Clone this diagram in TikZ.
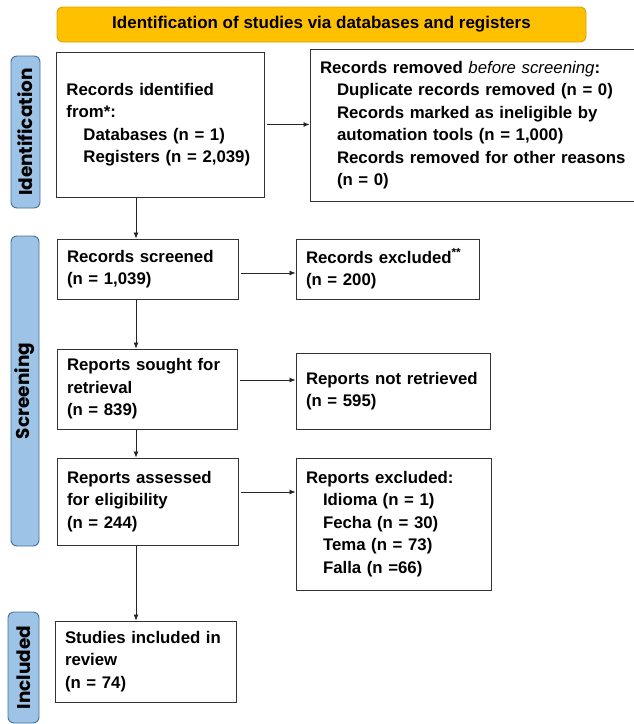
\documentclass[tikz,border=0pt]{standalone}
\usepackage{fontspec}
\setmainfont{Liberation Sans}
\newfontfamily\sidefont{Poppins}
\usetikzlibrary{arrows.meta}
\definecolor{hdrfill}{HTML}{FFC000}
\definecolor{hdrline}{HTML}{D9A300}
\definecolor{sidefill}{HTML}{9DC3E6}
\definecolor{sideline}{HTML}{41719C}
\newcommand{\inset}{\hspace*{17pt}}

\begin{document}
\begin{tikzpicture}[x=1pt,y=-1pt,>={Latex[length=6pt,width=5pt]}]

\tikzstyle{box}=[rectangle,draw=black!80,line width=0.9pt,inner xsep=10pt,inner ysep=0pt,align=left,font=\bfseries\fontsize{16.8}{22.5}\selectfont]
\tikzstyle{side}=[rectangle,rounded corners=6pt,draw=sideline,fill=sidefill,line width=0.9pt,inner sep=0pt,rotate=90,font=\sidefont\bfseries\fontsize{18.5}{18.5}\selectfont]
\tikzstyle{link}=[->,line width=0.8pt,black!85]

\useasboundingbox (0,0) rectangle (634,724);

\node[rectangle,rounded corners=6pt,draw=hdrline,fill=hdrfill,line width=0.9pt,minimum width=529pt,minimum height=35pt,font=\bfseries\fontsize{17}{20}\selectfont] (head) at (321.5,24.5) {Identification of studies via databases and registers};

\node[side,minimum width=152pt,minimum height=29pt] (sid) at (25.5,132) {Identification};
\node[side,minimum width=310pt,minimum height=28pt] (ssc) at (25,391) {Screening};
\node[side,minimum width=111pt,minimum height=31pt] (sin) at (23.5,667.5) {Included};

\node[box,text width=188pt,minimum height=145pt] (b1) at (160.5,124.5) {Records identified\\from*:\\\inset Databases (n = 1)\\\inset Registers (n = 2,039)};
\node[box,text width=310pt,minimum height=152pt] (b2) at (475,125) {Records removed {\mdseries\itshape before screening}:\\\inset Duplicate records removed (n = 0)\\\inset Records marked as ineligible by\\\inset automation tools (n = 1,000)\\\inset Records removed for other reasons\\\inset (n = 0)};
\node[box,text width=161pt,minimum height=60pt] (b3) at (147.5,269) {Records screened\\(n = 1,039)};
\node[box,text width=163pt,minimum height=60pt] (b4) at (387.5,269) {Records excluded\textsuperscript{**}\\(n = 200)};
\node[box,text width=160pt,minimum height=80pt] (b5) at (147,389) {Reports sought for\\retrieval\\(n = 839)};
\node[box,text width=174pt,minimum height=76pt] (b6) at (393,391) {Reports not retrieved\\(n = 595)};
\node[box,text width=161pt,minimum height=87pt] (b7) at (147.5,501.5) {Reports assessed\\for eligibility\\(n = 244)};
\node[box,text width=175pt,minimum height=132pt] (b8) at (393.5,524) {Reports excluded:\\\inset Idioma (n = 1)\\\inset Fecha (n = 30)\\\inset Tema (n = 73)\\\inset Falla (n =66)};
\node[box,text width=161pt,minimum height=81pt] (b9) at (145.5,661.5) {Studies included in\\review\\(n = 74)};

\coordinate (spine) at (136,0);

\draw[link] (b1.south -| spine) -- (b3.north -| spine);
\draw[link] (b3.south -| spine) -- (b5.north -| spine);
\draw[link] (b5.south -| spine) -- (b7.north -| spine);
\draw[link] (b7.south -| spine) -- (b9.north -| spine);

\draw[link,shorten <=2pt] (b1.east) -- (b1.east -| b2.west);
\draw[link,shorten <=3pt] ([yshift=-4pt]b3.east) -- ([yshift=-4pt]b3.east -| b4.west);
\draw[link,shorten <=3pt] ([yshift=9pt]b5.east) -- ([yshift=9pt]b5.east -| b6.west);
\draw[link,shorten <=3pt] ([yshift=9.5pt]b7.east) -- ([yshift=9.5pt]b7.east -| b8.west);

\end{tikzpicture}
\end{document}
